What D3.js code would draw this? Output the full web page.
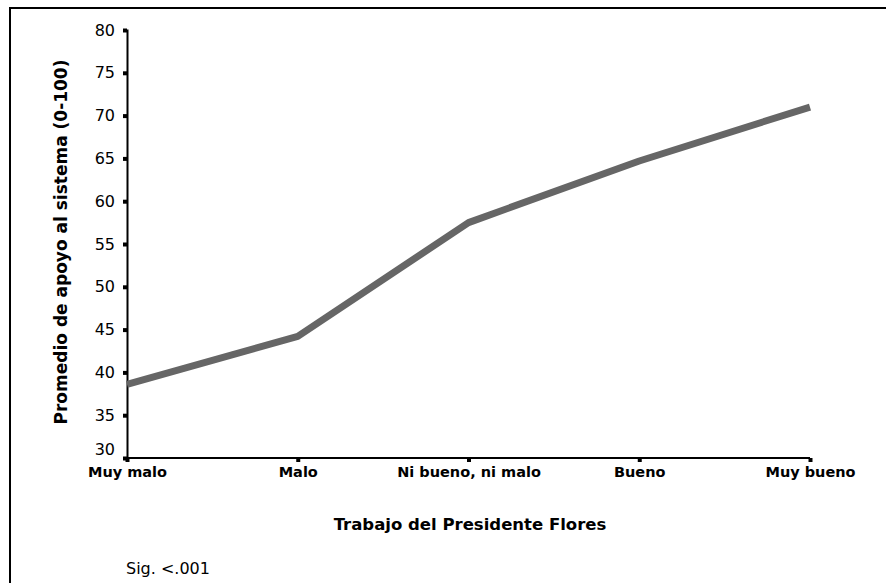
<!DOCTYPE html>
<html>
<head>
<meta charset="utf-8">
<script src="https://cdn.jsdelivr.net/npm/d3@7"></script>
<style>
  body { margin: 0; background: #fff; }
  text { font-family: "DejaVu Sans", Arial, sans-serif; }
</style>
</head>
<body>
<div id="chart"></div>
<script>
// Chart data
const categories = ['Muy malo', 'Malo', 'Ni bueno, ni malo', 'Bueno', 'Muy bueno'];
const apoyo = [38.6, 44.2, 57.5, 64.7, 71.0];
const yTicks = [30, 35, 40, 45, 50, 55, 60, 65, 70, 75, 80];

const W = 886, H = 583;
const margin = { left: 127, right: 76, top: 30, bottom: 125 };
const width = W - margin.left - margin.right;
const height = H - margin.top - margin.bottom;

const root = d3.select('#chart').append('svg')
    .attr('width', W)
    .attr('height', H);

// Outer frame (cropped at right and bottom)
root.append('path')
    .attr('d', `M10,${H + 2}V8H${W + 2}`)
    .attr('fill', 'none')
    .attr('stroke', '#000')
    .attr('stroke-width', 2);

const svg = root.append('g')
    .attr('transform', `translate(${margin.left},${margin.top})`);

const x = d3.scalePoint()
    .domain(categories)
    .range([0, width]);

const y = d3.scaleLinear()
    .domain([30, 80])
    .range([height, 0]);

// Y axis
const yAxis = svg.append('g')
    .call(d3.axisLeft(y).tickValues(yTicks).tickSize(4).tickPadding(8));
yAxis.select('.domain').attr('stroke', '#000').attr('stroke-width', 2);
yAxis.selectAll('.tick line').attr('stroke', '#000').attr('stroke-width', 4);
yAxis.selectAll('.tick text')
    .style('font-size', '16px')
    .attr('fill', '#000');
// lowest label sits a bit above its tick, clear of the category labels
yAxis.selectAll('.tick text').filter(d => d === 30).attr('dy', '-0.2em');

// X axis
const xAxis = svg.append('g')
    .attr('transform', `translate(0,${height})`)
    .call(d3.axisBottom(x).tickSize(4).tickPadding(5));
xAxis.select('.domain').attr('stroke', '#000').attr('stroke-width', 2).attr('d', `M0,0H${width}`);
xAxis.selectAll('.tick line').attr('stroke', '#000').attr('stroke-width', 4);
xAxis.selectAll('.tick text')
    .style('font-size', '14.5px')
    .style('font-weight', 'bold')
    .attr('fill', '#000');

// Line
const line = d3.line()
    .x((d, i) => x(categories[i]))
    .y(d => y(d));

svg.append('path')
    .datum(apoyo)
    .attr('fill', 'none')
    .attr('stroke', '#666666')
    .attr('stroke-width', 7)
    .attr('stroke-linejoin', 'round')
    .attr('d', line);

// Axis titles
svg.append('text')
    .attr('x', 470 - margin.left)
    .attr('y', height + 72)
    .attr('text-anchor', 'middle')
    .style('font-size', '16.5px')
    .style('font-weight', 'bold')
    .text('Trabajo del Presidente Flores');

svg.append('text')
    .attr('transform', 'rotate(-90)')
    .attr('x', -(242 - margin.top))
    .attr('y', -60)
    .attr('text-anchor', 'middle')
    .style('font-size', '17px')
    .style('font-weight', 'bold')
    .text('Promedio de apoyo al sistema (0-100)');

root.append('text')
    .attr('x', 126)
    .attr('y', 574)
    .style('font-size', '16px')
    .text('Sig. <.001');
</script>
</body>
</html>
